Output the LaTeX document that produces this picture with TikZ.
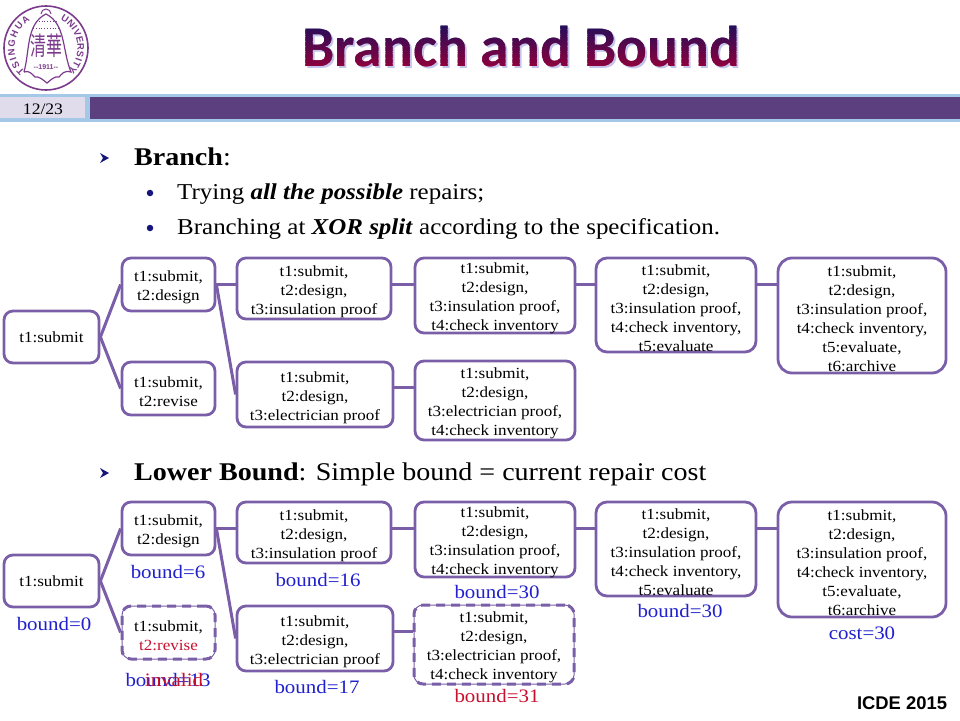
\documentclass[tikz,border=0pt]{standalone}
\usepackage{fontspec}
\setmainfont{Liberation Serif}[FakeStretch=1.1]
\newfontfamily\titlefont{Carlito}
\newfontfamily\footfont{Liberation Sans}
\newfontfamily\sealfont{Noto Sans CJK SC}
\usetikzlibrary{positioning,calc,decorations.text}
\definecolor{boxline}{HTML}{7A5FA8}
\definecolor{barpurple}{HTML}{5B3F7F}
\definecolor{barblue}{HTML}{A4C8E8}
\definecolor{pagefill}{HTML}{E0DCEC}
\definecolor{logopurple}{HTML}{7B3B8C}
\definecolor{titletop}{HTML}{16105E}
\definecolor{titlebot}{HTML}{96003A}
\definecolor{titleshadow}{HTML}{C4C4EC}
\definecolor{boundblue}{HTML}{2020CC}
\definecolor{boundred}{HTML}{C8102E}
\definecolor{bulletblue}{HTML}{14147A}
\newcommand{\titlefontset}{\titlefont\bfseries\fontsize{57.5}{60}\selectfont}
\newcommand{\firstline}{\rule{0pt}{16.5pt}t1:submit,}
\tikzset{
    treebox/.style={draw=boxline, line width=2.8pt, rounded corners=9pt, align=center, inner xsep=0pt, inner ysep=-4pt,
        font=\fontsize{15.5}{19}\selectfont},
    cutbox/.style={treebox, draw=none, preaction={draw=boxline, line width=1pt},
        postaction={draw=boxline, line width=3pt, dash pattern=on 9pt off 6pt}},
    treeline/.style={draw=boxline, line width=3pt},
    boundtxt/.style={text=boundblue, font=\fontsize{19}{20}\selectfont, inner sep=0pt},
    redtxt/.style={boundtxt, text=boundred},
    headtxt/.style={anchor=base west, inner sep=0pt, font=\fontsize{25.5}{30}\selectfont},
    subtxt/.style={anchor=base west, inner sep=0pt, font=\fontsize{22.7}{26}\selectfont},
    arrowmark/.style={fill=bulletblue},
    dotmark/.style={fill=bulletblue, circle, inner sep=0pt, minimum size=6.5pt}
}
\begin{document}
\begin{tikzpicture}[x=1pt,y=-1pt]
    \useasboundingbox (0,0) rectangle (960,720);

    % Logo
    \draw[logopurple, line width=1.6pt] (46,48) circle (42);
    \path[decorate, decoration={text along path, text align={fit to path},
        text={|\footfont\fontsize{9.5}{10}\selectfont\bfseries\color{logopurple}|TSINGHUA}}]
        (46,48) ++(132:31.5) arc[start angle=132, end angle=240, radius=31.5];
    \path[decorate, decoration={text along path, text align={fit to path},
        text={|\footfont\fontsize{9.5}{10}\selectfont\bfseries\color{logopurple}|UNIVERSITY}}]
        (46,48) ++(297:31.5) arc[start angle=297, end angle=405, radius=31.5];
    \draw[logopurple, line width=1.2pt] (24,72) .. controls (30,50) and (26,24) .. (46,14)
        .. controls (66,24) and (62,50) .. (71,72) .. controls (64,70) and (62,74) .. (59,77)
        .. controls (54,76) and (51,80) .. (47,83) .. controls (43,80) and (39,76) .. (35,77)
        .. controls (32,74) and (29,70) .. (24,72);
    \draw[logopurple, line width=1pt] (41,14) arc[start angle=180, end angle=360, radius=5];
    \draw[logopurple, line width=.8pt, dotted] (36,21) -- (56,21) (33,28) -- (59,28);
    \node[text=logopurple, inner sep=0pt, yscale=1.6, font=\sealfont\fontsize{16}{17}\selectfont] (seal) at (46,46) {清華};
    \node[text=logopurple, inner sep=0pt, font=\footfont\fontsize{7}{8}\selectfont\bfseries] (year) at (46,67) {--1911--};

    % Title
    \node[text=titleshadow, inner sep=0pt, font=\titlefontset] (titleshade) at (523,49) {Branch and Bound};
    \foreach \band in {0,...,29} {
        \pgfmathsetmacro{\mixval}{100-\band*100/29}
        \begin{scope}
            \clip (290,{20+\band*1.7}) rectangle (750,{20+(\band+1)*1.7+.3});
            \node[text=titletop!\mixval!titlebot, inner sep=0pt, font=\titlefontset] at (521,47) {Branch and Bound};
        \end{scope}
    }

    % Header bar
    \fill[barblue] (0,94) rectangle (960,122);
    \fill[barpurple] (90,97) rectangle (960,119);
    \fill[pagefill] (0,97) rectangle (85,118);
    \node[inner sep=0pt, font=\fontsize{16}{18}\selectfont] (pagenum) at (43,109) {12/23};

    % Text
    \fill[arrowmark] (100,153) -- (109,158) -- (100,163) -- (103,158) -- cycle;
    \node[headtxt] (branch) at (134,165) {\textbf{Branch}:};
    \node[dotmark] (dota) at (150,193) {};
    \node[subtxt] (trying) at (177,199) {Trying \textbf{\textit{all the possible}} repairs;};
    \node[dotmark] (dotb) at (150,228) {};
    \node[subtxt] (branching) at (177,234) {Branching at \textbf{\textit{XOR split}} according to the specification.};
    \fill[arrowmark] (100,468) -- (109,473) -- (100,478) -- (103,473) -- cycle;
    \node[headtxt] (lower) at (134,480) {\textbf{Lower Bound}: Simple bound = current repair cost};

    % Upper tree
    \node[treebox, minimum width=95, minimum height=52] (a1) at (51.5,337) {t1:submit};
    \node[treebox, minimum width=93, minimum height=53] (b1) at (168.5,284.5) {\firstline\\t2:design};
    \node[treebox, minimum width=93, minimum height=53] (c1) at (168.5,388.5) {\firstline\\t2:revise};
    \node[treebox, minimum width=154, minimum height=61] (d1) at (314,288.5) {\firstline\\t2:design,\\t3:insulation proof};
    \node[treebox, minimum width=156, minimum height=65] (e1) at (315,394.5) {\firstline\\t2:design,\\t3:electrician proof};
    \node[treebox, minimum width=160, minimum height=75] (f1) at (495,295.5) {\firstline\\t2:design,\\t3:insulation proof,\\t4:check inventory};
    \node[treebox, minimum width=160, minimum height=79] (g1) at (495,400.5) {\firstline\\t2:design,\\t3:electrician proof,\\t4:check inventory};
    \node[treebox, rounded corners=11pt, minimum width=160, minimum height=94] (h1) at (676,305) {\firstline\\t2:design,\\t3:insulation proof,\\t4:check inventory,\\t5:evaluate};
    \node[treebox, rounded corners=14pt, minimum width=168, minimum height=115] (i1) at (862,315.5) {\firstline\\t2:design,\\t3:insulation proof,\\t4:check inventory,\\t5:evaluate,\\t6:archive};
    \draw[treeline] (a1.east) -- (b1.west);
    \draw[treeline] (a1.east) -- (c1.west);
    \draw[treeline] (b1.east) -- (b1.east -| d1.west);
    \draw[treeline] (b1.east) -- (e1.west);
    \draw[treeline] (b1.east -| d1.east) -- (b1.east -| f1.west);
    \draw[treeline] (b1.east -| f1.east) -- (b1.east -| h1.west);
    \draw[treeline] (b1.east -| h1.east) -- (b1.east -| i1.west);
    \draw[treeline] ([yshift=7pt]e1.east) -- ([yshift=7pt]e1.east -| g1.west);

    % Lower tree
    \node[treebox, minimum width=95, minimum height=52] (a2) at (51.5,581) {t1:submit};
    \node[treebox, minimum width=93, minimum height=53] (b2) at (168.5,528.5) {\firstline\\t2:design};
    \node[cutbox, minimum width=93, minimum height=53] (c2) at (168.5,632.5) {\firstline\\\textcolor{boundred}{t2:revise}};
    \node[treebox, minimum width=154, minimum height=61] (d2) at (314,532.5) {\firstline\\t2:design,\\t3:insulation proof};
    \node[treebox, minimum width=156, minimum height=65] (e2) at (315,638.5) {\firstline\\t2:design,\\t3:electrician proof};
    \node[treebox, minimum width=160, minimum height=75] (f2) at (495,539.5) {\firstline\\t2:design,\\t3:insulation proof,\\t4:check inventory};
    \node[cutbox, minimum width=160, minimum height=79] (g2) at (494,644.5) {\firstline\\t2:design,\\t3:electrician proof,\\t4:check inventory};
    \node[treebox, rounded corners=11pt, minimum width=160, minimum height=94] (h2) at (676,549) {\firstline\\t2:design,\\t3:insulation proof,\\t4:check inventory,\\t5:evaluate};
    \node[treebox, rounded corners=14pt, minimum width=168, minimum height=115] (i2) at (862,559.5) {\firstline\\t2:design,\\t3:insulation proof,\\t4:check inventory,\\t5:evaluate,\\t6:archive};
    \draw[treeline] (a2.east) -- (b2.west);
    \draw[treeline] (a2.east) -- (c2.west);
    \draw[treeline] (b2.east) -- (b2.east -| d2.west);
    \draw[treeline] (b2.east) -- (e2.west);
    \draw[treeline] (b2.east -| d2.east) -- (b2.east -| f2.west);
    \draw[treeline] (b2.east -| f2.east) -- (b2.east -| h2.west);
    \draw[treeline] (b2.east -| h2.east) -- (b2.east -| i2.west);
    \draw[treeline] ([yshift=7pt]e2.east) -- ([yshift=7pt]e2.east -| g2.west);

    % Bounds
    \node[boundtxt] (ba) at (54,624) {bound=0};
    \node[boundtxt] (bb) at (168,572) {bound=6};
    \node[boundtxt] (bc) at (168,680) {bound=13};
    \node[redtxt] (bcx) at (174,680) {invalid};
    \node[boundtxt] (bd) at (318,580) {bound=16};
    \node[boundtxt] (be) at (317,687) {bound=17};
    \node[boundtxt] (bf) at (497,592) {bound=30};
    \node[redtxt] (bg) at (497,696) {bound=31};
    \node[boundtxt] (bh) at (680,611) {bound=30};
    \node[boundtxt] (bi) at (862,633) {cost=30};

    \node[inner sep=0pt, font=\footfont\bfseries\fontsize{18.4}{20}\selectfont] (conf) at (902,703) {ICDE 2015};
\end{tikzpicture}
\end{document}
